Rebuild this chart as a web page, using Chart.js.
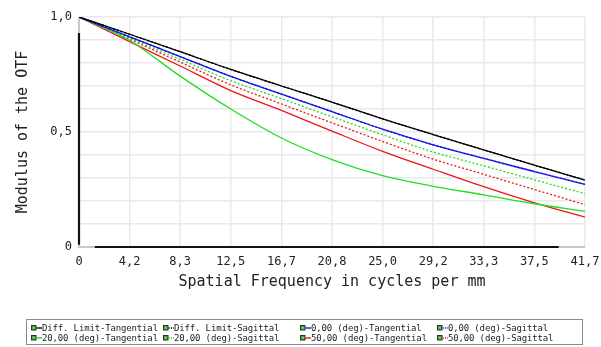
<html>
  <head>
    <meta charset="utf-8" />
    <title>MTF Chart</title>
    <style>
      body {
        margin: 0;
        padding: 0;
        background: #ffffff;
      }
      #wrap {
        position: relative;
        width: 601px;
        height: 347px;
      }
      #legend {
        position: absolute;
        left: 26px;
        top: 319px;
        width: 555px;
        height: 24px;
        border: 1px solid #8a8a8a;
        font-family: "DejaVu Sans Mono", monospace;
        font-size: 9px;
        letter-spacing: -0.15px;
        color: #222;
      }
      .item {
        position: absolute;
        height: 11px;
        line-height: 11px;
        white-space: nowrap;
      }
      .item svg {
        vertical-align: middle;
        margin-top: -2px;
      }
    </style>
    <script src="https://cdn.jsdelivr.net/npm/chart.js"></script>
  </head>
  <body>
    <div id="wrap">
      <canvas id="mtfChart" width="601" height="347"></canvas>
      <div id="legend"></div>
    </div>
    <script>
      // spatial frequency (cycles/mm) and x tick labels
      const freq = [0, 4.17, 8.33, 12.5, 16.67, 20.83, 25.0, 29.17, 33.33, 37.5, 41.67];
      const xTickLabels = ["0", "4,2", "8,3", "12,5", "16,7", "20,8", "25,0", "29,2", "33,3", "37,5", "41,7"];
      const yLabelValues = [0, 0.5, 1];
      const yLabelTexts = ["0", "0,5", "1,0"];

      // modulus of the OTF
      const diffTan = [1, 0.925, 0.849, 0.772, 0.700, 0.630, 0.557, 0.489, 0.422, 0.356, 0.291];
      const diffSag = [1, 0.925, 0.849, 0.772, 0.700, 0.630, 0.557, 0.489, 0.422, 0.356, 0.291];
      const deg0Tan = [1, 0.914, 0.828, 0.742, 0.665, 0.589, 0.512, 0.444, 0.385, 0.328, 0.272];
      const deg0Sag = [1, 0.914, 0.828, 0.742, 0.665, 0.589, 0.512, 0.444, 0.385, 0.328, 0.272];
      const deg20Tan = [1, 0.898, 0.743, 0.600, 0.474, 0.380, 0.310, 0.264, 0.227, 0.188, 0.155];
      const deg20Sag = [1, 0.908, 0.816, 0.723, 0.645, 0.566, 0.488, 0.413, 0.353, 0.292, 0.232];
      const deg50Tan = [1, 0.893, 0.787, 0.680, 0.594, 0.504, 0.416, 0.338, 0.262, 0.192, 0.130];
      const deg50Sag = [1, 0.903, 0.804, 0.705, 0.622, 0.540, 0.459, 0.382, 0.316, 0.250, 0.184];

      const seriesLabels = [
        "Diff. Limit-Tangential", "Diff. Limit-Sagittal",
        "0,00 (deg)-Tangential", "0,00 (deg)-Sagittal",
        "20,00 (deg)-Tangential", "20,00 (deg)-Sagittal",
        "50,00 (deg)-Tangential", "50,00 (deg)-Sagittal"
      ];
      const seriesValues = [diffTan, diffSag, deg0Tan, deg0Sag, deg20Tan, deg20Sag, deg50Tan, deg50Sag];
      const seriesColors = ["#000000", "#000000", "#1414e6", "#1414e6", "#22dd22", "#22dd22", "#ee1515", "#ee1515"];
      const seriesDotted = [false, true, false, true, false, true, false, true];

      const font = "'DejaVu Sans Mono', monospace";

      const datasets = seriesValues.map((vals, i) => ({
        label: seriesLabels[i],
        data: vals.map((v, j) => ({ x: freq[j], y: v })),
        borderColor: seriesColors[i],
        borderWidth: 1.3,
        borderDash: seriesDotted[i] ? [2, 2] : [],
        pointRadius: 0,
        fill: false,
        cubicInterpolationMode: "monotone",
      }));

      // black axis lines, grey at the ends like the original
      const axisPlugin = {
        id: "axisLines",
        beforeDatasetsDraw(chart) {
          const ctx = chart.ctx;
          const xs = chart.scales.x;
          const ys = chart.scales.y;
          const x0 = xs.getPixelForValue(0);
          const y0 = ys.getPixelForValue(0);
          ctx.save();
          ctx.lineWidth = 2;
          ctx.strokeStyle = "#c8c8c8";
          ctx.beginPath();
          ctx.moveTo(x0, ys.getPixelForValue(1));
          ctx.lineTo(x0, y0);
          ctx.lineTo(xs.getPixelForValue(41.67), y0);
          ctx.stroke();
          ctx.strokeStyle = "#111111";
          ctx.lineWidth = 2.2;
          ctx.beginPath();
          ctx.moveTo(x0, ys.getPixelForValue(0.93));
          ctx.lineTo(x0, ys.getPixelForValue(0.01));
          ctx.moveTo(xs.getPixelForValue(1.3), y0);
          ctx.lineTo(xs.getPixelForValue(39.5), y0);
          ctx.stroke();
          ctx.restore();
        },
      };

      const ctx = document.getElementById("mtfChart").getContext("2d");
      const mtfChart = new Chart(ctx, {
        type: "line",
        data: { datasets: datasets },
        plugins: [axisPlugin],
        options: {
          responsive: false,
          animation: false,
          layout: { padding: { left: 0, right: 0, top: 17, bottom: 47 } },
          plugins: {
            legend: { display: false },
            tooltip: { enabled: false },
          },
          scales: {
            x: {
              type: "linear",
              min: 0,
              max: 41.67,
              afterFit: (scale) => {
                scale.height = 53;
                scale.paddingLeft = 0;
                scale.paddingRight = 16;
              },
              afterBuildTicks: (scale) => {
                scale.ticks = freq.map((v) => ({ value: v }));
              },
              grid: { color: "#e9e9e9", lineWidth: 1.5, drawTicks: false },
              border: { display: false },
              ticks: {
                autoSkip: false,
                maxRotation: 0,
                padding: 8,
                color: "#222",
                font: { family: font, size: 12 },
                callback: (value) => {
                  const i = freq.indexOf(value);
                  return i >= 0 ? xTickLabels[i] : "";
                },
              },
              title: {
                display: true,
                text: "Spatial Frequency in cycles per mm",
                color: "#222",
                font: { family: font, size: 15 },
                padding: { top: 2, bottom: 9 },
              },
            },
            y: {
              type: "linear",
              min: 0,
              max: 1,
              afterFit: (scale) => { scale.width = 79; },
              grid: { color: "#e9e9e9", lineWidth: 1.5, drawTicks: false },
              border: { display: false },
              ticks: {
                stepSize: 0.1,
                padding: 7,
                color: "#222",
                font: { family: font, size: 12 },
                callback: (value) => {
                  const i = yLabelValues.findIndex((v) => Math.abs(v - value) < 1e-6);
                  return i >= 0 ? yLabelTexts[i] : "";
                },
              },
              title: {
                display: true,
                text: "Modulus of the OTF",
                color: "#222",
                font: { family: font, size: 15 },
                padding: { top: 14, bottom: 0 },
              },
            },
          },
        },
      });

      // legend box: 4 columns, 2 rows
      const colX = [4, 136, 273, 410];
      const rowY = [3, 13];
      const legend = document.getElementById("legend");
      seriesLabels.forEach((label, i) => {
        const pair = Math.floor(i / 2);
        const col = (pair % 2) * 2 + (i % 2);
        const row = Math.floor(pair / 2);
        const item = document.createElement("div");
        item.className = "item";
        item.style.left = colX[col] + "px";
        item.style.top = rowY[row] + "px";
        const dash = seriesDotted[i] ? 'stroke-dasharray="1.2,1.2"' : "";
        item.innerHTML =
          '<svg width="11" height="6">' +
          '<rect x="0.5" y="0.5" width="4.5" height="4.5" fill="#3c9a3c" stroke="#1d3d1d"/>' +
          '<path d="M1.7 1.7 L3.8 3.8 M3.8 1.7 L1.7 3.8" stroke="#cfe9cf" stroke-width="0.7"/>' +
          '<line x1="5.5" y1="3" x2="11" y2="3" stroke="' + seriesColors[i] + '" stroke-width="1.4" ' + dash + "/>" +
          "</svg>" + label;
        legend.appendChild(item);
      });
    </script>
  </body>
</html>
